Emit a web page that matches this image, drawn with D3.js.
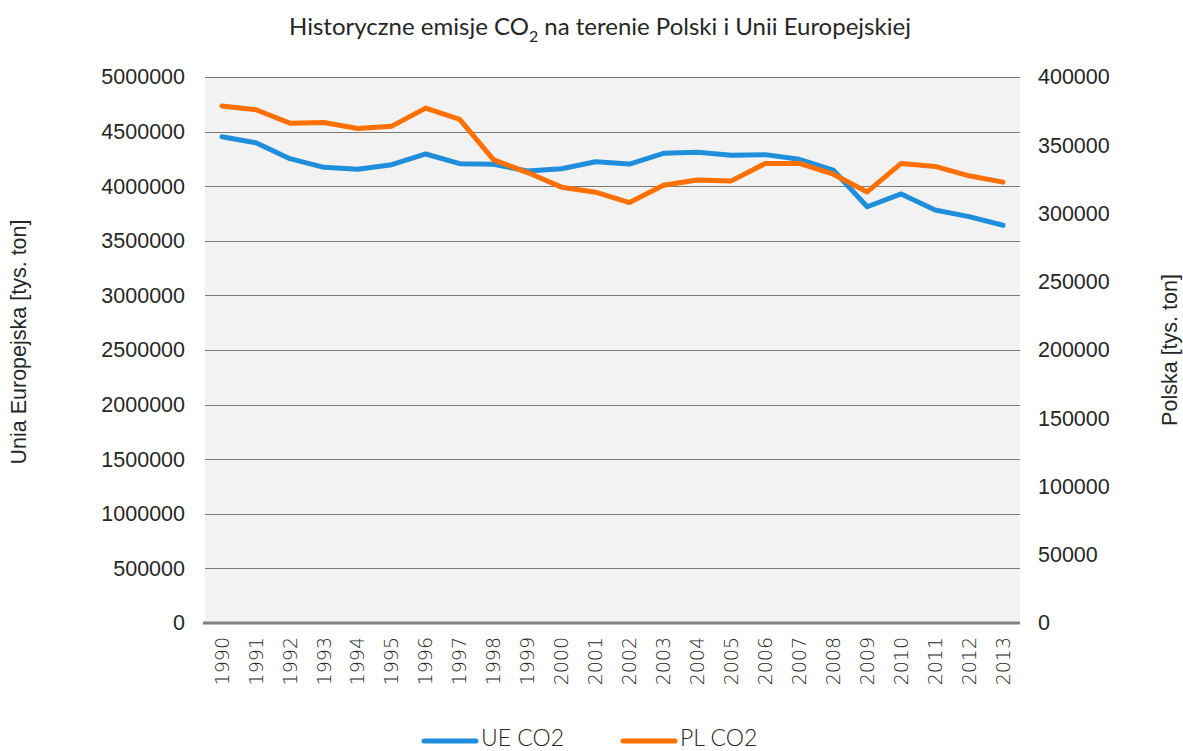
<!DOCTYPE html>
<html>
<head>
<meta charset="utf-8">
<script src="https://cdn.jsdelivr.net/npm/d3@7"></script>
<style>
  body { margin: 0; background: #fff; overflow: hidden; }
  svg text { fill: #262626; }
</style>
</head>
<body>
<svg id="chart" width="1183" height="751"></svg>
<script>
const years = [1990, 1991, 1992, 1993, 1994, 1995, 1996, 1997, 1998, 1999, 2000, 2001,
               2002, 2003, 2004, 2005, 2006, 2007, 2008, 2009, 2010, 2011, 2012, 2013];
const ueCO2 = [4453000, 4398000, 4252000, 4173000, 4155000, 4197000, 4295000, 4206000,
               4200000, 4139000, 4160000, 4224000, 4203000, 4301000, 4310000, 4283000,
               4289000, 4246000, 4148000, 3812000, 3929000, 3782000, 3721000, 3642000];
const plCO2 = [378700, 376000, 366200, 366700, 362300, 364000, 377200, 369000,
               339300, 330000, 319300, 315600, 308000, 320700, 324600, 323900,
               336700, 336700, 328800, 315800, 336700, 334500, 327600, 323000];
const leftTicks = d3.range(0, 5000001, 500000);
const rightTicks = d3.range(0, 400001, 50000);

(function() {
    const svg = d3.select("#chart"),
        margin = { top: 77, right: 163, bottom: 128, left: 205 },
        width = 1183 - margin.left - margin.right,
        height = 751 - margin.top - margin.bottom;

    const g = svg.append("g").attr("transform", `translate(${margin.left},${margin.top})`);

    const x = d3.scaleBand().domain(years).range([0, width]);
    const yL = d3.scaleLinear().domain([0, 5000000]).range([height, 0]);
    const yR = d3.scaleLinear().domain([0, 400000]).range([height, 0]);

    g.append("rect")
        .attr("width", width)
        .attr("height", height)
        .attr("fill", "#f2f2f2");

    // gridlines
    g.append("g")
        .selectAll("line")
        .data(leftTicks.slice(1))
        .enter().append("line")
        .attr("x1", 0).attr("x2", width)
        .attr("y1", d => Math.round(yL(d)) + 0.5)
        .attr("y2", d => Math.round(yL(d)) + 0.5)
        .attr("stroke", "#7a7a7a")
        .attr("stroke-width", 1);

    const tickFont = "21.5px 'Liberation Sans', Arial, sans-serif";

    // left axis
    const axL = g.append("g")
        .call(d3.axisLeft(yL).tickValues(leftTicks).tickSize(0).tickPadding(20).tickFormat(d3.format("d")));
    axL.select(".domain").remove();
    axL.selectAll("text").style("font", tickFont).attr("fill", "#262626");

    // right axis
    const axR = g.append("g")
        .attr("transform", `translate(${width},0)`)
        .call(d3.axisRight(yR).tickValues(rightTicks).tickSize(0).tickPadding(18).tickFormat(d3.format("d")));
    axR.select(".domain").remove();
    axR.selectAll("text").style("font", tickFont).attr("fill", "#262626");

    // bottom axis
    const axB = g.append("g")
        .attr("transform", `translate(0,${height})`)
        .call(d3.axisBottom(x).tickSize(0).tickPadding(0));
    axB.select(".domain").remove();
    axB.selectAll("text")
        .style("font", "200 19px 'DejaVu Sans', sans-serif")
        .attr("fill", "#404040")
        .attr("transform", "rotate(-90)")
        .attr("x", -14)
        .attr("y", 0)
        .attr("dy", "0.35em")
        .attr("text-anchor", "end");

    g.append("line")
        .attr("x1", -2).attr("x2", width)
        .attr("y1", height).attr("y2", height)
        .attr("stroke", "#808080")
        .attr("stroke-width", 3);

    const lineL = d3.line()
        .x((d, i) => x(years[i]) + x.bandwidth() / 2)
        .y(d => yL(d));
    const lineR = d3.line()
        .x((d, i) => x(years[i]) + x.bandwidth() / 2)
        .y(d => yR(d));

    g.append("path")
        .attr("d", lineL(ueCO2))
        .attr("fill", "none")
        .attr("stroke", "#1f8fdb")
        .attr("stroke-width", 5)
        .attr("stroke-linejoin", "round")
        .attr("stroke-linecap", "round");

    g.append("path")
        .attr("d", lineR(plCO2))
        .attr("fill", "none")
        .attr("stroke", "#ff7000")
        .attr("stroke-width", 5)
        .attr("stroke-linejoin", "round")
        .attr("stroke-linecap", "round");

    // title
    const title = svg.append("text")
        .attr("x", 600)
        .attr("y", 35)
        .attr("text-anchor", "middle")
        .style("font", "24px Lato, sans-serif");
    title.append("tspan").text("Historyczne emisje CO");
    title.append("tspan").attr("dy", 7).style("font-size", "16px").text("2");
    title.append("tspan").attr("dy", -7).text(" na terenie Polski i Unii Europejskiej");

    // axis titles
    svg.append("text")
        .attr("transform", `translate(26,${margin.top + height / 2 - 8}) rotate(-90)`)
        .attr("text-anchor", "middle")
        .style("font", tickFont)
        .text("Unia Europejska [tys. ton]");

    svg.append("text")
        .attr("transform", `translate(1177,${margin.top + height / 2}) rotate(-90)`)
        .attr("text-anchor", "middle")
        .style("font", tickFont)
        .text("Polska [tys. ton]");

    // legend
    const legend = [
        { label: "UE CO2", color: "#1f8fdb", x: 424 },
        { label: "PL CO2", color: "#ff7000", x: 623 }
    ];
    const lg = svg.append("g").selectAll("g")
        .data(legend)
        .enter().append("g")
        .attr("transform", d => `translate(${d.x},741)`);
    lg.append("line")
        .attr("x1", 0).attr("x2", 52)
        .attr("stroke", d => d.color)
        .attr("stroke-width", 5)
        .attr("stroke-linecap", "round");
    lg.append("text")
        .attr("x", 57)
        .attr("y", 5)
        .style("font", "300 23px Lato, sans-serif")
        .text(d => d.label);
})();
</script>
</body>
</html>
